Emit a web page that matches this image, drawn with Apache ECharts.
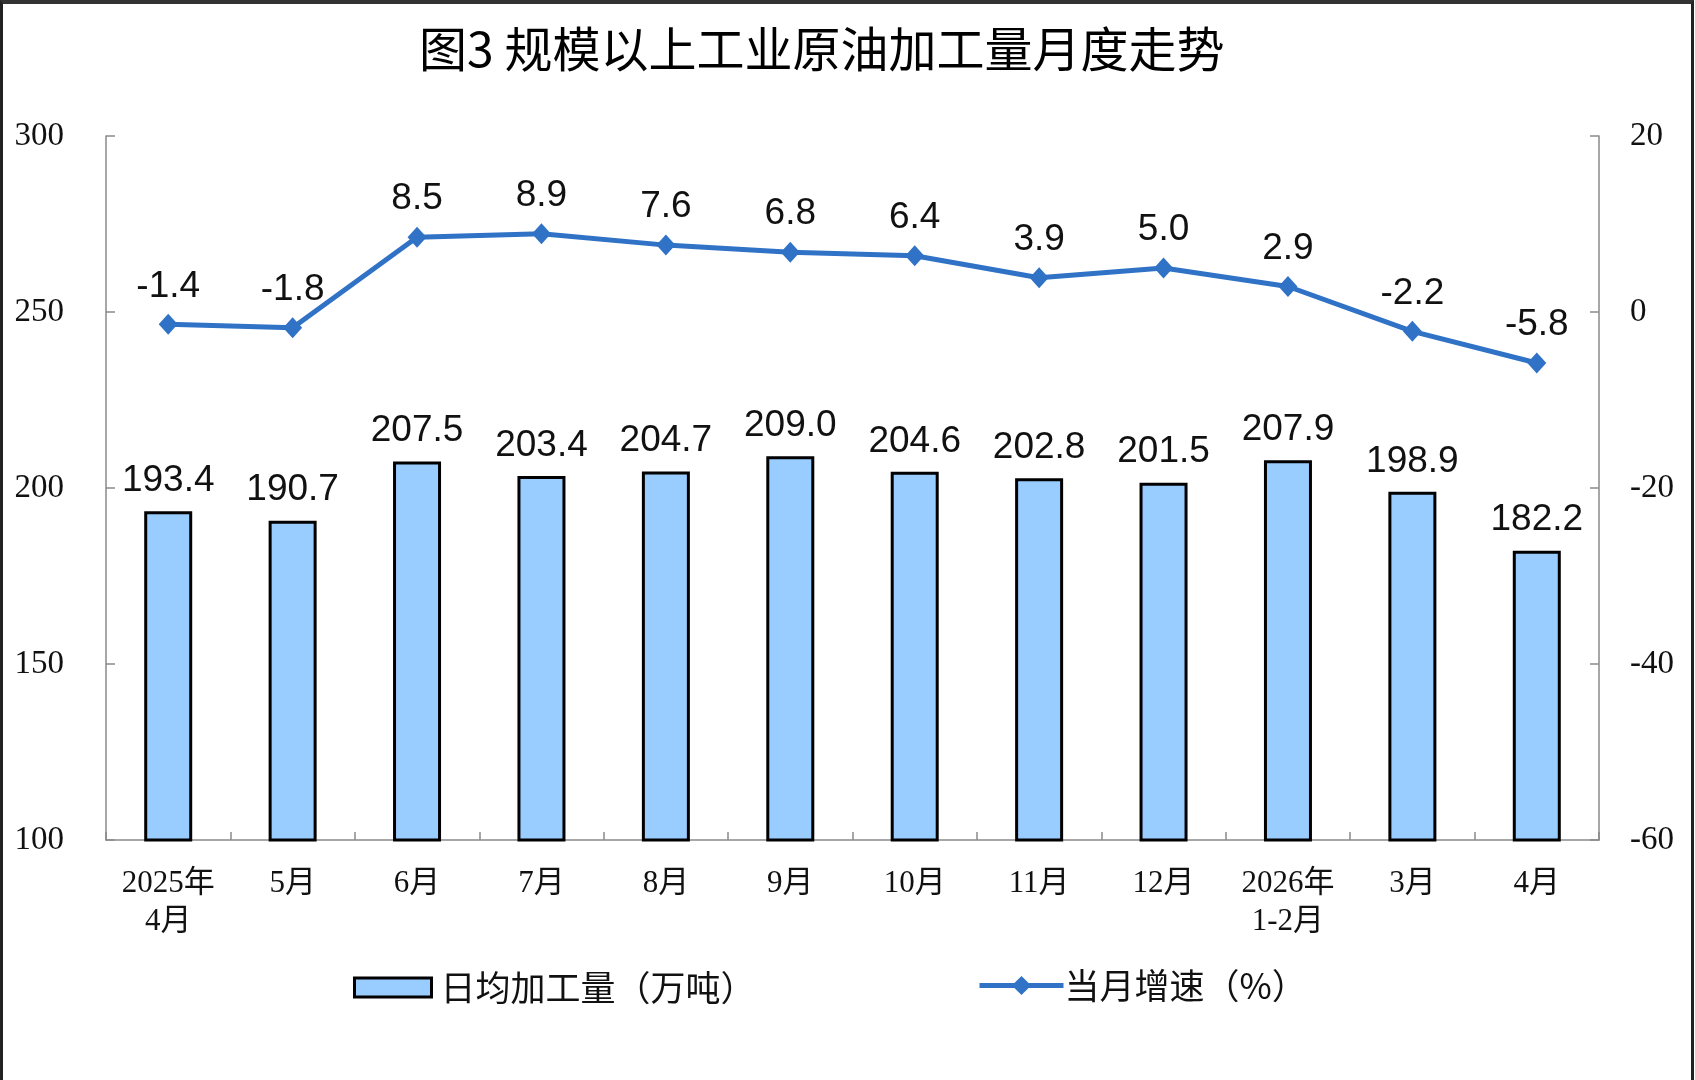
<!DOCTYPE html>
<html>
<head>
<meta charset="utf-8">
<title>图3 规模以上工业原油加工量月度走势</title>
<script src="https://cdn.jsdelivr.net/npm/echarts@6/dist/echarts.min.js"></script>
<style>
    html, body { margin: 0; padding: 0; background: #fff; }
    #chart { width: 1695px; height: 1080px; }
    #frame {
        position: absolute; left: 0; top: 0;
        width: 1688px; height: 1080px;
        border-top: 4px solid #333; border-left: 3px solid #222; border-right: 3px solid #222;
        pointer-events: none;
    }
</style>
</head>
<body>
<div id="chart"></div>
<div id="frame"></div>
<script>
const months = ['2025年\n4月', '5月', '6月', '7月', '8月', '9月', '10月', '11月', '12月', '2026年\n1-2月', '3月', '4月'];
// 日均加工量（万吨）
const dailyOutput = [193.4, 190.7, 207.5, 203.4, 204.7, 209.0, 204.6, 202.8, 201.5, 207.9, 198.9, 182.2];
// 当月增速（%）
const growth = [-1.4, -1.8, 8.5, 8.9, 7.6, 6.8, 6.4, 3.9, 5.0, 2.9, -2.2, -5.8];

const BAR_NAME = '日均加工量（万吨）';
const LINE_NAME = '当月增速（%）';
const BLUE = '#2F72C6';
const AXIS_GREY = '#8a8a8a';
const SERIF = '"Liberation Serif", "Noto Sans CJK SC", serif';
const SANS = '"Liberation Sans", Arial, sans-serif';
const CJK = '"Noto Sans CJK SC", sans-serif';

const valueAxis = (min, max, interval, margin) => ({
    type: 'value',
    min: min,
    max: max,
    interval: interval,
    splitLine: { show: false },
    axisLine: { show: true, lineStyle: { color: AXIS_GREY, width: 1.5 } },
    axisTick: { show: true, inside: true, length: 9, lineStyle: { color: AXIS_GREY, width: 1.5 } },
    axisLabel: { color: '#111', fontFamily: SERIF, fontSize: 33, margin: margin },
});

const chart = echarts.init(document.getElementById('chart'));
chart.setOption({
    animation: false,
    backgroundColor: '#fff',
    title: {
        text: '图3 规模以上工业原油加工量月度走势',
        left: 414,
        top: 20,
        textStyle: { fontFamily: CJK, fontSize: 48, fontWeight: 'normal', color: '#000' },
    },
    legend: [
        {
            data: [{ name: BAR_NAME, icon: 'rect' }],
            left: 353,
            top: 970,
            padding: 0,
            itemWidth: 77,
            itemHeight: 19,
            itemGap: 0,
            itemStyle: { borderWidth: 3, borderColor: '#000' },
            textStyle: { fontFamily: CJK, fontSize: 35, color: '#111', padding: [0, 0, 0, 4] },
        },
        {
            data: [LINE_NAME],
            left: 977,
            top: 968,
            padding: 0,
            itemWidth: 84,
            itemHeight: 24,
            itemGap: 0,
            lineStyle: { width: 5 },
            textStyle: { fontFamily: CJK, fontSize: 35, color: '#111', padding: [0, 0, 0, -4] },
        },
    ],
    grid: { left: 106, right: 96, top: 136, bottom: 240, containLabel: false },
    xAxis: {
        type: 'category',
        data: months,
        boundaryGap: true,
        axisLine: { onZero: false, lineStyle: { color: AXIS_GREY, width: 1.5 } },
        axisTick: { show: true, inside: true, length: 8, alignWithLabel: false, lineStyle: { color: AXIS_GREY, width: 1.5 } },
        axisLabel: { color: '#111', fontFamily: SERIF, fontSize: 31, lineHeight: 38, margin: 25, interval: 0 },
    },
    yAxis: [valueAxis(100, 300, 50, 42), valueAxis(-60, 20, 20, 31)],
    series: [
        {
            name: BAR_NAME,
            type: 'bar',
            data: dailyOutput,
            barWidth: 48,
            itemStyle: { color: '#99CCFF', borderColor: '#000', borderWidth: 3 },
            label: {
                show: true,
                position: 'top',
                distance: 12,
                formatter: (p) => p.value.toFixed(1),
                fontFamily: SANS,
                fontSize: 37,
                color: '#111',
            },
        },
        {
            name: LINE_NAME,
            type: 'line',
            yAxisIndex: 1,
            data: growth,
            symbol: 'diamond',
            symbolSize: [19, 21],
            lineStyle: { color: BLUE, width: 5 },
            itemStyle: { color: BLUE },
            label: {
                show: true,
                position: 'top',
                distance: 9,
                formatter: (p) => p.value.toFixed(1),
                fontFamily: SANS,
                fontSize: 37,
                color: '#111',
            },
        },
    ],
});
</script>
</body>
</html>
